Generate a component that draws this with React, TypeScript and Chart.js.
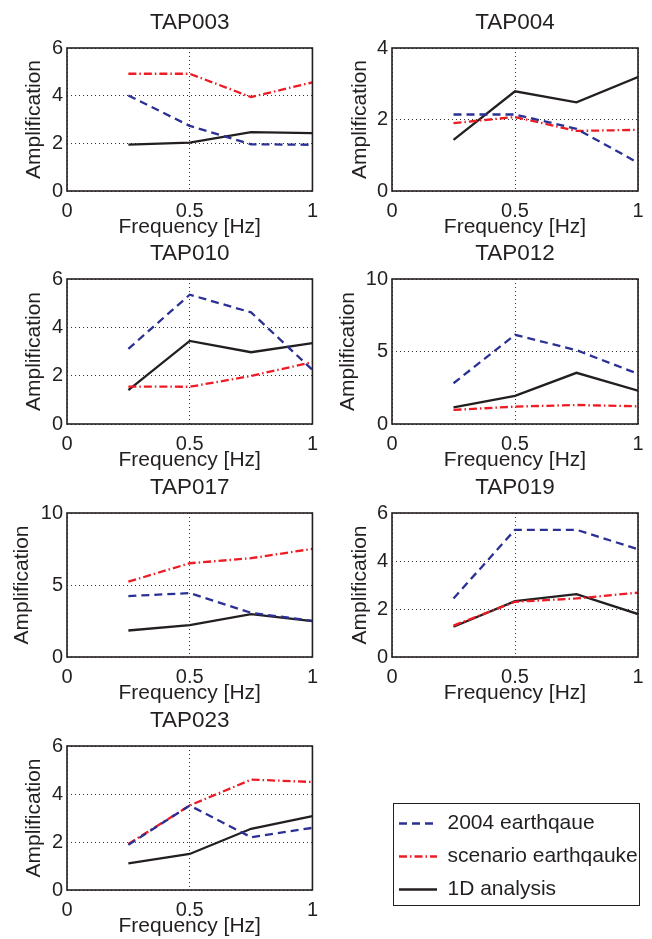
import React, { useEffect, useRef } from "react";
import { Chart, registerables } from "chart.js";

Chart.register(...registerables);

const FONT = '"Liberation Sans", Arial, Helvetica, sans-serif';
const INK = "#231f20";

// ---- data ----
const FREQUENCIES = [0.25, 0.5, 0.75, 1.0];
const X_TICK_VALUES = [0, 0.5, 1];
const X_TICK_LABELS = ["0", "0.5", "1"];
const STATIONS = ["TAP003", "TAP004", "TAP010", "TAP012", "TAP017", "TAP019", "TAP023"];
const Y_MAX = [6, 4, 6, 10, 10, 6, 6];
const Y_STEP = [2, 2, 2, 5, 5, 2, 2];
const SERIES_LABELS = ["2004 earthqaue", "scenario earthqauke", "1D analysis"];

const AMP_2004 = [
  [4.01, 2.73, 1.96, 1.94],
  [2.14, 2.14, 1.74, 0.79],
  [3.11, 5.35, 4.62, 2.24],
  [2.81, 6.15, 5.09, 3.46],
  [4.23, 4.44, 3.07, 2.51],
  [2.44, 5.3, 5.3, 4.49],
  [1.88, 3.52, 2.2, 2.59],
];
const AMP_SCENARIO = [
  [4.92, 4.92, 3.94, 4.56],
  [1.9, 2.07, 1.68, 1.71],
  [1.55, 1.54, 1.99, 2.56],
  [0.97, 1.2, 1.31, 1.22],
  [5.23, 6.51, 6.86, 7.51],
  [1.31, 2.3, 2.44, 2.68],
  [1.92, 3.52, 4.6, 4.5],
];
const AMP_1D = [
  [1.95, 2.03, 2.47, 2.43],
  [1.43, 2.79, 2.48, 3.19],
  [1.4, 3.44, 2.97, 3.35],
  [1.15, 1.94, 3.53, 2.3],
  [1.84, 2.21, 2.98, 2.49],
  [1.26, 2.33, 2.62, 1.79],
  [1.11, 1.5, 2.55, 3.08],
];

// ---- styles / layout ----
const SERIES_STYLE = [
  { color: "rgb(43,49,148)", dash: [8, 5] },
  { color: "rgb(237,28,36)", dash: [8, 3, 1.5, 3] },
  { color: INK, dash: [] as number[] },
];
const COL_X = [0, 326];
const COL_W = 326;
const Y_AXIS_W = [67, 66];
const RIGHT_PAD = [13, 14];
const ROW_BOX_TOP = [48, 279, 513, 746];
const ROW_BOX_H = [143, 145, 144, 144];
const TITLE_H = 48;
const X_AXIS_H = 49;

function buildDatasets(i: number | null) {
  const series = [AMP_2004, AMP_SCENARIO, AMP_1D];
  return SERIES_LABELS.map((label, s) => ({
    label,
    data: i === null ? [] : FREQUENCIES.map((f, k) => ({ x: f, y: series[s][i][k] })),
    borderColor: SERIES_STYLE[s].color,
    backgroundColor: SERIES_STYLE[s].color,
    borderDash: SERIES_STYLE[s].dash,
    borderWidth: 2.3,
    pointRadius: 0,
    tension: 0,
    fill: false,
  }));
}

const framePlugin = {
  id: "frame",
  afterDraw(chart: any) {
    const { ctx, chartArea: a } = chart;
    ctx.save();
    ctx.strokeStyle = INK;
    ctx.lineWidth = 1.6;
    ctx.setLineDash([]);
    ctx.strokeRect(a.left, a.top, a.right - a.left, a.bottom - a.top);
    ctx.restore();
  },
};

function SubChart({ index }: { index: number }) {
  const ref = useRef<HTMLCanvasElement>(null);
  const row = Math.floor(index / 2);
  const col = index % 2;
  const width = COL_W;
  const height = TITLE_H + ROW_BOX_H[row] + X_AXIS_H;
  const top = ROW_BOX_TOP[row] - TITLE_H;

  useEffect(() => {
    if (!ref.current) return;
    const yw = Y_AXIS_W[col];
    const yTitlePad = Y_MAX[index] >= 10 ? 9.5 : 21.5;
    const gridOpts = { color: "#333", lineWidth: 1, drawTicks: false };
    const chart = new Chart(ref.current, {
      type: "line",
      data: { datasets: buildDatasets(index) as any },
      plugins: [framePlugin],
      options: {
        animation: false,
        responsive: false,
        maintainAspectRatio: false,
        layout: { padding: { left: 0, right: RIGHT_PAD[col], top: 0, bottom: 0 } },
        plugins: {
          legend: { display: false },
          tooltip: { enabled: false },
          title: {
            display: true,
            text: STATIONS[index],
            fullSize: false,
            color: INK,
            font: { family: FONT, size: 22.5, weight: "normal" },
            padding: { top: 9, bottom: 12 },
          },
        },
        scales: {
          x: {
            type: "linear",
            min: X_TICK_VALUES[0],
            max: X_TICK_VALUES[X_TICK_VALUES.length - 1],
            afterBuildTicks: (s: any) => {
              s.ticks = X_TICK_VALUES.map((v) => ({ value: v }));
            },
            afterFit: (s: any) => {
              s.height = X_AXIS_H;
            },
            grid: gridOpts,
            border: { display: false, dash: [1, 3] },
            ticks: {
              color: INK,
              font: { family: FONT, size: 20 },
              padding: 8,
              maxRotation: 0,
              autoSkip: false,
              callback: (v: any) => {
                const k = X_TICK_VALUES.indexOf(Number(v));
                return k >= 0 ? X_TICK_LABELS[k] : "";
              },
            },
            title: {
              display: true,
              text: "Frequency [Hz]",
              color: INK,
              font: { family: FONT, size: 21 },
              padding: { top: 0, bottom: 0 },
            },
          },
          y: {
            type: "linear",
            min: 0,
            max: Y_MAX[index],
            afterFit: (s: any) => {
              s.width = yw;
            },
            grid: gridOpts,
            border: { display: false, dash: [1, 3] },
            ticks: {
              stepSize: Y_STEP[index],
              color: INK,
              font: { family: FONT, size: 20 },
              padding: 4,
            },
            title: {
              display: true,
              text: "Amplification",
              color: INK,
              font: { family: FONT, size: 21 },
              padding: { top: yTitlePad, bottom: 0 },
            },
          },
        },
      } as any,
    });
    return () => chart.destroy();
  }, [index]);

  return (
    <canvas
      ref={ref}
      width={width}
      height={height}
      style={{ position: "absolute", left: COL_X[col], top, width, height, display: "block" }}
    />
  );
}

function LegendBox() {
  const ref = useRef<HTMLCanvasElement>(null);
  useEffect(() => {
    if (!ref.current) return;
    const chart = new Chart(ref.current, {
      type: "line",
      data: { datasets: buildDatasets(null) as any },
      options: {
        animation: false,
        responsive: false,
        maintainAspectRatio: false,
        scales: { x: { display: false }, y: { display: false } },
        plugins: {
          tooltip: { enabled: false },
          legend: {
            display: true,
            position: "left",
            align: "start",
            maxWidth: 400,
            labels: {
              color: INK,
              font: { family: FONT, size: 21 },
              usePointStyle: true,
              pointStyle: "line",
              pointStyleWidth: 38,
              padding: 12,
              generateLabels: (c: any) =>
                c.data.datasets.map((ds: any, i: number) => ({
                  text: ds.label,
                  fillStyle: ds.borderColor,
                  strokeStyle: ds.borderColor,
                  lineDash: ds.borderDash,
                  lineWidth: ds.borderWidth,
                  lineCap: "butt",
                  pointStyle: "line",
                  hidden: false,
                  datasetIndex: i,
                  fontColor: INK,
                })),
            },
          },
        },
      } as any,
    });
    return () => chart.destroy();
  }, []);
  return (
    <>
      <div
        style={{
          position: "absolute",
          left: 393,
          top: 803,
          width: 247,
          height: 103,
          border: `1.6px solid ${INK}`,
          boxSizing: "border-box",
        }}
      />
      <canvas
        ref={ref}
        width={300}
        height={130}
        style={{ position: "absolute", left: 387, top: 800.5, width: 300, height: 130, display: "block" }}
      />
    </>
  );
}

export default function App() {
  return (
    <div
      style={{
        position: "absolute",
        left: 0,
        top: 0,
        width: 652,
        height: 939,
        overflow: "hidden",
        background: "#fff",
      }}
    >
      {STATIONS.map((_, i) => (
        <SubChart key={i} index={i} />
      ))}
      <LegendBox />
    </div>
  );
}
